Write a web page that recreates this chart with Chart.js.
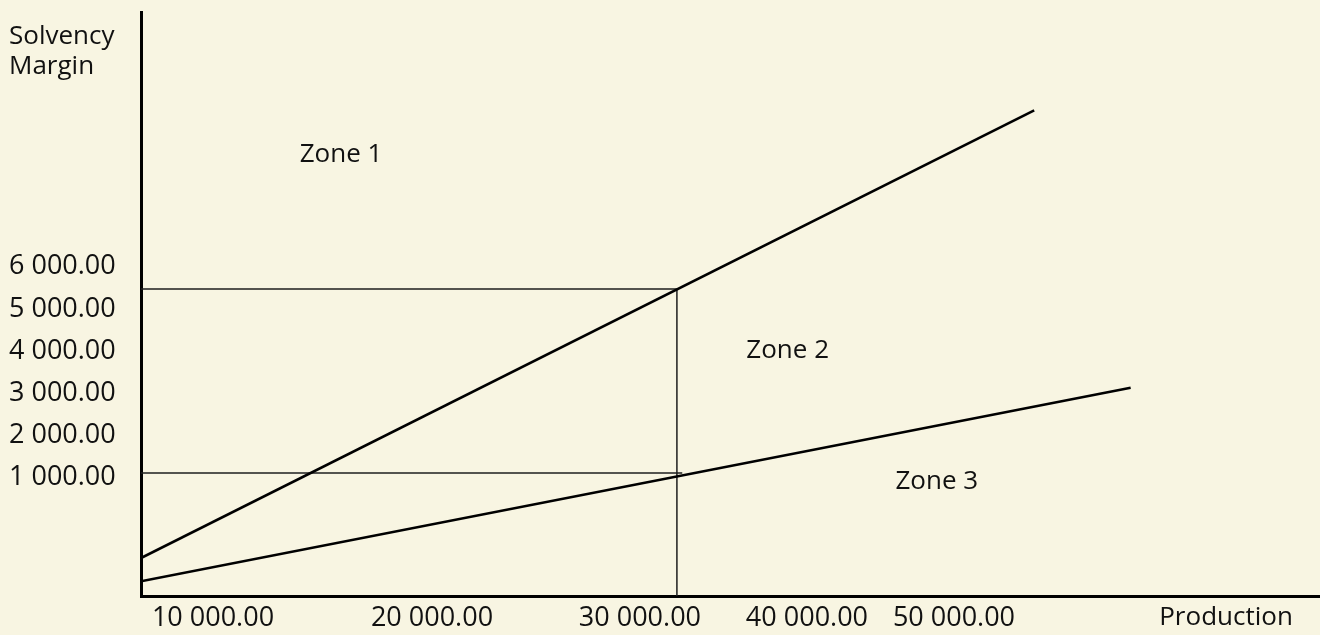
<!DOCTYPE html>
<html>
<head>
<meta charset="utf-8">
<title>Solvency margin zones</title>
<script src="https://cdn.jsdelivr.net/npm/chart.js@4.4.1/dist/chart.umd.min.js"></script>
<style>
  html, body { margin: 0; padding: 0; background: #f8f5e2; }
  #wrap { width: 1320px; height: 635px; }
</style>
</head>
<body>
<div id="wrap"><canvas id="zoneChart" width="1320" height="635"></canvas></div>
<script>
// Production (x) vs solvency margin (y)
const upperX = [0, 50000];
const upperY = [-900, 9700];
const lowerX = [0, 55400];
const lowerY = [-1450, 3130];
const guideHighX = [0, 30000, 30000];
const guideHighY = [5470, 5470, -1800];
const guideLowX = [0, 30300];
const guideLowY = [1110, 1110];

// x labels sit where the drawing puts them, not at their nominal value
const xTickAt = [4030, 16290, 27930, 37280, 45510, 60740];
const xTickLabels = ['10 000.00', '20 000.00', '30 000.00', '40 000.00', '50 000.00', 'Production'];
const yTickValues = [1000, 2000, 3000, 4000, 5000, 6000];

const zoneNames = ['Zone 1', 'Zone 2', 'Zone 3'];
const zoneX = [11200, 36200, 44550];
const zoneY = [8650, 4000, 920];

const FAMILY = '"Open Sans", sans-serif';
const NUM_FONT = { family: FAMILY, size: 27 };
const WORD_FONT = { family: FAMILY, size: 26 };
const INK = '#111';

function toPoints(xs, ys) {
    return xs.map((x, i) => ({ x: x, y: ys[i] }));
}

function fmtAmount(v) {
    return v.toFixed(2).replace(/\B(?=(\d{3})+(?!\d))/g, ' ');
}

// zone names and the y axis caption
const zoneCaptions = {
    id: 'zoneCaptions',
    afterDatasetsDraw(chart) {
        const { ctx, scales: { x, y } } = chart;
        ctx.save();
        ctx.font = `${WORD_FONT.size}px ${FAMILY}`;
        ctx.fillStyle = INK;
        ctx.textAlign = 'center';
        ctx.textBaseline = 'middle';
        zoneNames.forEach((name, i) => {
            ctx.fillText(name, x.getPixelForValue(zoneX[i]), y.getPixelForValue(zoneY[i]));
        });
        ctx.textAlign = 'left';
        ctx.textBaseline = 'alphabetic';
        ctx.fillText('Solvency', 9, 44);
        ctx.fillText('Margin', 9, 74);
        ctx.restore();
    }
};

const mainLine = { borderColor: '#000', borderWidth: 2.6, pointRadius: 0, tension: 0, fill: false };
const guideLine = { borderColor: '#1e1e1e', borderWidth: 1.5, pointRadius: 0, tension: 0, fill: false };

new Chart(document.getElementById('zoneChart'), {
    type: 'line',
    data: {
        datasets: [
            { label: 'upper', data: toPoints(upperX, upperY), ...mainLine },
            { label: 'lower', data: toPoints(lowerX, lowerY), ...mainLine },
            { label: 'guide high', data: toPoints(guideHighX, guideHighY), ...guideLine },
            { label: 'guide low', data: toPoints(guideLowX, guideLowY), ...guideLine }
        ]
    },
    options: {
        responsive: false,
        animation: false,
        layout: { padding: { left: 9, top: 12, right: 0, bottom: 0 } },
        plugins: { legend: { display: false }, tooltip: { enabled: false } },
        scales: {
            x: {
                type: 'linear',
                min: 0,
                max: 66000,
                grid: { display: false, drawTicks: false },
                border: { display: true, color: '#000', width: 3 },
                ticks: {
                    color: INK,
                    font: (c) => (c.tick && c.tick.label === 'Production') ? WORD_FONT : NUM_FONT,
                    padding: 6,
                    autoSkip: false,
                    maxRotation: 0,
                    callback: (v) => {
                        const i = xTickAt.indexOf(v);
                        return i >= 0 ? xTickLabels[i] : '';
                    }
                },
                afterBuildTicks: (s) => { s.ticks = xTickAt.map(v => ({ value: v })); },
                afterFit: (s) => { s.height = 39; s.paddingLeft = 0; s.paddingRight = 0; }
            },
            y: {
                type: 'linear',
                min: -1800,
                max: 12030,
                grid: { display: false, drawTicks: false },
                border: { display: true, color: '#000', width: 3 },
                ticks: {
                    color: INK,
                    font: NUM_FONT,
                    padding: 0,
                    crossAlign: 'far',
                    callback: (v) => fmtAmount(v)
                },
                afterBuildTicks: (s) => { s.ticks = yTickValues.map(v => ({ value: v })); },
                afterFit: (s) => { s.width = 132; s.paddingTop = 0; s.paddingBottom = 0; }
            }
        }
    },
    plugins: [zoneCaptions]
});
</script>
</body>
</html>
